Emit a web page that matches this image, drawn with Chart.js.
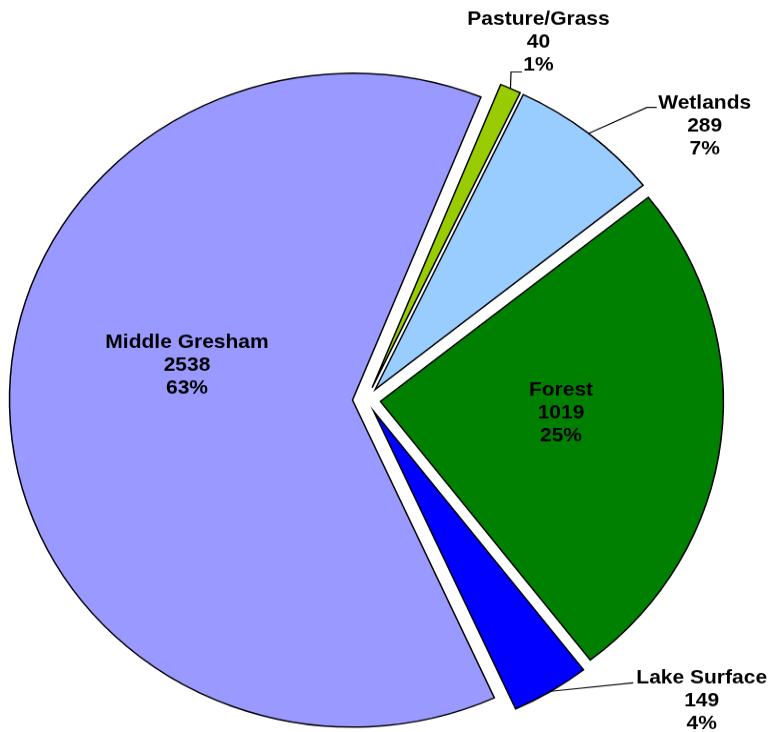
<!DOCTYPE html>
<html>
<head>
<meta charset="utf-8">
<title>Land use</title>
<script src="https://cdn.jsdelivr.net/npm/chart.js@4.4.1/dist/chart.umd.min.js"></script>
<style>
  html, body { margin: 0; padding: 0; background: #fff; overflow: hidden; }
  /* the pie is drawn slightly flattened, so the canvas is squeezed vertically */
  #wrap { width: 771px; height: 768px; transform: scaleY(0.953125); transform-origin: 0 0; }
</style>
</head>
<body>
<div id="wrap"><canvas id="pie" width="771" height="768"></canvas></div>
<script>
const categories = ['Pasture/Grass', 'Wetlands', 'Forest', 'Lake Surface', 'Middle Gresham'];
const acres = [40, 289, 1019, 149, 2538];

const sliceColors = ['#99CC00', '#99CCFF', '#008000', '#0000FF', '#9999FF'];

// centre of each label block (middle line) and the leader line bends
const labelSpots = [
  { x: 538.5, y: 44.5, leader: [[511, 75.5], [522, 75.5]] },
  { x: 704.7, y: 132.5, leader: [[647, 112.6], [656.7, 112.6]] },
  { x: 561, y: 433.5 },
  { x: 701.7, y: 735.5, leader: [[633.3, 716.3]] },
  { x: 187, y: 383 }
];
const EXPLODE = 14;
const LINE_GAP = 24.2;

const total = acres.reduce((a, b) => a + b, 0);

function sliceCentre(arc) {
  const { x, y, startAngle, endAngle, outerRadius } = arc.getProps(['x', 'y', 'startAngle', 'endAngle', 'outerRadius'], true);
  const mid = (startAngle + endAngle) / 2;
  return {
    cx: x + Math.cos(mid) * EXPLODE,
    cy: y + Math.sin(mid) * EXPLODE,
    mid,
    r: outerRadius
  };
}

// pull every slice out from the centre along its bisector
const explodedSlices = {
  id: 'explodedSlices',
  beforeDatasetDraw(chart, args) {
    const ctx = chart.ctx;
    args.meta.data.forEach(arc => {
      const { mid } = sliceCentre(arc);
      ctx.save();
      ctx.translate(Math.cos(mid) * EXPLODE, Math.sin(mid) * EXPLODE);
      arc.draw(ctx);
      ctx.restore();
    });
    return false;
  }
};

const sliceLabels = {
  id: 'sliceLabels',
  afterDatasetsDraw(chart) {
    const ctx = chart.ctx;
    const arcs = chart.getDatasetMeta(0).data;
    ctx.save();
    ctx.strokeStyle = '#000';
    ctx.lineWidth = 1.2;
    ctx.fillStyle = '#000';
    ctx.font = 'bold 21px "Liberation Sans", Arial, sans-serif';
    ctx.textAlign = 'center';
    ctx.textBaseline = 'middle';
    arcs.forEach((arc, i) => {
      const spot = labelSpots[i];
      if (spot.leader) {
        const { cx, cy, mid, r } = sliceCentre(arc);
        ctx.beginPath();
        ctx.moveTo(cx + Math.cos(mid) * r, cy + Math.sin(mid) * r);
        spot.leader.forEach(p => ctx.lineTo(p[0], p[1]));
        ctx.stroke();
      }
      const pct = Math.round(acres[i] / total * 100) + '%';
      [categories[i], String(acres[i]), pct].forEach((t, k) => {
        ctx.fillText(t, spot.x, spot.y + (k - 1) * LINE_GAP);
      });
    });
    ctx.restore();
  }
};

new Chart(document.getElementById('pie'), {
  type: 'pie',
  data: {
    labels: categories,
    datasets: [{
      data: acres,
      backgroundColor: sliceColors,
      borderColor: '#000',
      borderWidth: 1.5,
      borderJoinStyle: 'miter',
      radius: 343
    }]
  },
  options: {
    responsive: false,
    animation: false,
    events: [],
    rotation: 22,
    layout: { padding: { left: 0, right: 38, top: 71, bottom: 0 } },
    plugins: {
      legend: { display: false },
      tooltip: { enabled: false }
    }
  },
  plugins: [explodedSlices, sliceLabels]
});
</script>
</body>
</html>
